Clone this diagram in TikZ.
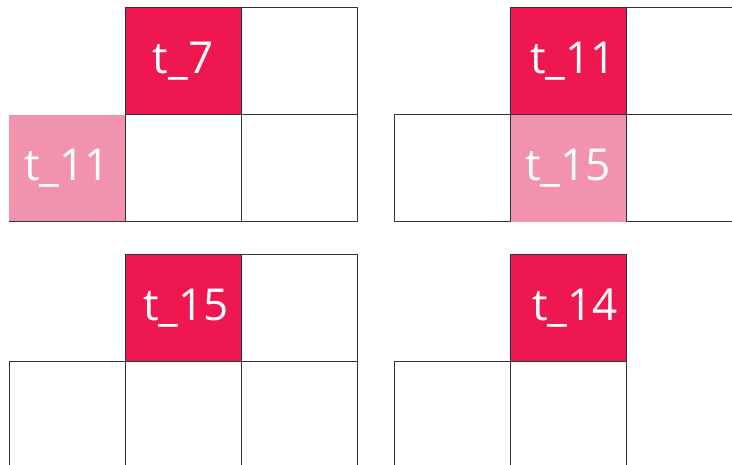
\documentclass[tikz,border=0pt]{standalone}
\usepackage{fontspec}
\setmainfont{Open Sans}
\definecolor{hot}{HTML}{EE1750}
\definecolor{soft}{HTML}{F293AE}
\definecolor{gridline}{HTML}{333333}
\begin{document}
\begin{tikzpicture}[x=1pt,y=-1pt,
  cell/.style={minimum width=116pt,minimum height=107pt,inner sep=0pt,outer sep=0pt,
    draw=gridline,line width=1pt,font=\fontsize{44}{44}\selectfont,text=white},
  hotcell/.style={cell,fill=hot},
  softcell/.style={cell,draw=none,fill=soft}]
\useasboundingbox (0,0) rectangle (732,465);
\clip (0,0) rectangle (732,465);
% panel 1
\node[softcell] (a21) at (67,168.5) {t\_11};
\node[hotcell]  (a12) at (183,61.5) {t\_7};
\node[cell]     (a13) at (299,61.5) {};
\node[cell]     (a22) at (183,168.5) {};
\node[cell]     (a23) at (299,168.5) {};
\draw[gridline,line width=1pt] (a21.south west) -- (a21.south east);
% panel 2
\node[softcell] (b22) at (568,168.5) {t\_15};
\node[hotcell]  (b12) at (568,61.5) {\hspace*{10pt}t\_11};
\node[cell]     (b13) at (684,61.5) {};
\node[cell]     (b21) at (452.5,168.5) {};
\node[cell]     (b23) at (684,168.5) {};
% panel 3
\node[hotcell]  (c12) at (183,308.5) {\hspace*{6pt}t\_15};
\node[cell]     (c13) at (299,308.5) {};
\node[cell]     (c21) at (67,415.5) {};
\node[cell]     (c22) at (183,415.5) {};
\node[cell]     (c23) at (299,415.5) {};
% panel 4
\node[hotcell]  (d12) at (568,308.5) {\hspace*{14pt}t\_14};
\node[cell]     (d21) at (452.5,415.5) {};
\node[cell]     (d22) at (568,415.5) {};
\end{tikzpicture}
\end{document}
